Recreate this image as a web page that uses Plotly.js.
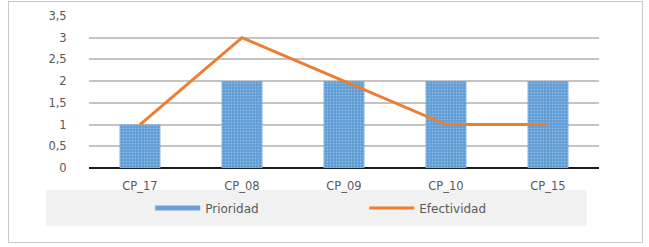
<!DOCTYPE html>
<html><head><meta charset="utf-8">
<script src="https://cdn.plot.ly/plotly-3.0.1.min.js"></script>
<style>
html,body{margin:0;padding:0;background:#fff;}
#wrap{position:relative;width:649px;height:247px;}
#chart{width:649px;height:247px;}
#frame{position:absolute;left:8px;top:1px;width:633px;height:240px;border:1px solid #c9c9c9;pointer-events:none;}
</style></head>
<body>
<div id="wrap"><div id="chart"></div><div id="frame"></div></div>
<script>
const categories = ["CP_17","CP_08","CP_09","CP_10","CP_15"];
const prioridad = [1,2,2,2,2];
const efectividad = [1,3,2,1,1];
const yTicks = [0,0.5,1,1.5,2,2.5,3,3.5];
const yTickLabels = ["0","0,5","1","1,5","2","2,5","3","3,5"];

const tickFont = {family:"DejaVu Sans, Open Sans, sans-serif", size:11.5, color:"#595959"};
const legFont = {family:"DejaVu Sans, Open Sans, sans-serif", size:12, color:"#595959"};

const traces = [
  {type:"bar", name:"Prioridad", x:categories, y:prioridad, showlegend:false,
   marker:{color:"#5b9bd5", pattern:{shape:".", fgcolor:"#8fb8e3", bgcolor:"#5b9bd5", size:3, solidity:0.35}}},
  {type:"scatter", mode:"lines", name:"Prioridad", x:[categories[0]], y:[null], showlegend:true,
   line:{color:"#6a9fd8", width:5}, hoverinfo:"skip"},
  {type:"scatter", mode:"lines", name:"Efectividad", x:categories, y:efectividad,
   line:{color:"#ed7d31", width:3}}
];

const layout = {
  width:649, height:247,
  margin:{l:89, r:50, t:16, b:79},
  paper_bgcolor:"#ffffff", plot_bgcolor:"#ffffff",
  bargap:0.6,
  font:tickFont,
  showlegend:true,
  xaxis:{type:"category", showgrid:false, zeroline:false, showline:false, ticks:"", tickfont:tickFont, ticklabelstandoff:9},
  yaxis:{range:[0,3.5], tickvals:yTicks, ticktext:yTickLabels, showgrid:true, gridcolor:"#c4c4c4", gridwidth:2,
         zeroline:true, zerolinecolor:"#1a1a1a", zerolinewidth:1.5, showline:false,
         ticks:"outside", ticklen:19, tickcolor:"rgba(0,0,0,0)", tickfont:tickFont},
  legend:{orientation:"h", x:0.12, xanchor:"left", y:-0.263, yanchor:"middle", bgcolor:"rgba(0,0,0,0)",
          font:legFont, entrywidth:154, entrywidthmode:"pixels", itemwidth:45, traceorder:"normal"},
  shapes:[{type:"rect", xref:"paper", yref:"paper", x0:-0.084, x1:0.976, y0:-0.38, y1:-0.145,
           fillcolor:"#f1f1f1", line:{width:0}, layer:"below"}]
};
Plotly.newPlot("chart", traces, layout, {displayModeBar:false, staticPlot:true});
</script>
</body></html>
